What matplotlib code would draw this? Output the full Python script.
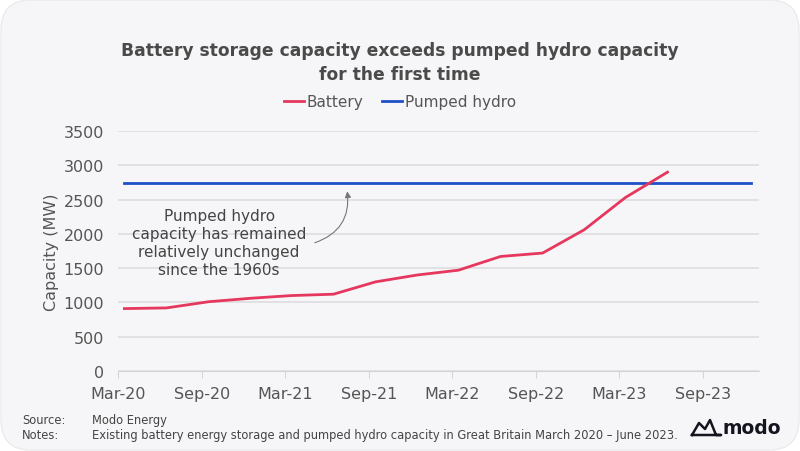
import datetime as dt
import matplotlib
matplotlib.use("Agg")
import matplotlib.pyplot as plt
import matplotlib.dates as mdates
from matplotlib.patches import FancyBboxPatch
from matplotlib.lines import Line2D

# ---------- data ----------
battery_dates = [dt.date(2020, 3, 15), dt.date(2020, 6, 15), dt.date(2020, 9, 15), dt.date(2020, 12, 15),
                 dt.date(2021, 3, 15), dt.date(2021, 6, 15), dt.date(2021, 9, 15), dt.date(2021, 12, 15),
                 dt.date(2022, 3, 15), dt.date(2022, 6, 15), dt.date(2022, 9, 15), dt.date(2022, 12, 15),
                 dt.date(2023, 3, 15), dt.date(2023, 6, 15)]
battery_mw = [910, 920, 1010, 1060, 1100, 1120, 1300, 1400, 1470, 1670, 1720, 2060, 2530, 2900]

hydro_dates = [dt.date(2020, 3, 15), dt.date(2021, 3, 15), dt.date(2022, 3, 15),
               dt.date(2023, 3, 15), dt.date(2023, 12, 15)]
hydro_mw = [2740, 2740, 2740, 2740, 2740]

yticks = [0, 500, 1000, 1500, 2000, 2500, 3000, 3500]

# ---------- style ----------
BG = "#F6F6F8"
RED = "#E6385E"
BLUE = "#1E50C8"
GREY = "#555555"
plt.rcParams["font.family"] = ["DejaVu Sans"]

fig = plt.figure(figsize=(8, 4.52), dpi=100, facecolor="white")
card = FancyBboxPatch((1, 1), 798, 450, boxstyle="round,pad=0,rounding_size=30",
                      transform=None, facecolor=BG, edgecolor="#EBEBEE", lw=1, zorder=-10)
fig.patches.append(card)

ax = fig.add_axes([0.1475, 0.177, 0.8013, 0.531])
ax.set_facecolor("none")

ax.plot(hydro_dates, hydro_mw, color=BLUE, lw=2, label="Pumped hydro", zorder=3)
ax.plot(battery_dates, battery_mw, color=RED, lw=2, label="Battery", zorder=4)

ax.set_xlim(dt.date(2020, 3, 1), dt.date(2024, 1, 1))
ax.set_ylim(0, 3500)
ax.set_yticks(yticks)
xt = [dt.date(y, m, 1) for y in (2020, 2021, 2022, 2023) for m in (3, 9)]
ax.set_xticks(xt)
ax.xaxis.set_major_formatter(mdates.DateFormatter("%b-%y"))

ax.grid(axis="y", color="#DDDDE0", lw=1.2)
ax.set_axisbelow(True)
for s in ("top", "right", "left"):
    ax.spines[s].set_visible(False)
ax.spines["bottom"].set_color("#D5D5D8")
ax.tick_params(axis="y", length=0, labelsize=11.5, labelcolor=GREY, pad=10)
ax.tick_params(axis="x", length=5, color="#D5D5D8", labelsize=11.5, labelcolor=GREY, pad=6)
ax.set_ylabel("Capacity (MW)", fontsize=11.5, color=GREY)
ax.yaxis.set_label_coords(-0.092, 0.5)

# annotation text + separate curved arrow
ax.text(dt.date(2020, 10, 8), 1870,
        "Pumped hydro\ncapacity has remained\nrelatively unchanged\nsince the 1960s",
        ha="center", va="center", fontsize=11, color="#444444", linespacing=1.25)
ax.annotate("", xy=(dt.date(2021, 7, 15), 2620), xytext=(dt.date(2021, 5, 5), 1870),
            arrowprops=dict(arrowstyle="-|>", color="#777777", lw=0.8,
                            mutation_scale=9, shrinkA=0, shrinkB=0,
                            connectionstyle="arc3,rad=0.4"))

fig.text(0.5, 1 - 63 / 452, "Battery storage capacity exceeds pumped hydro capacity\nfor the first time",
         ha="center", va="center", fontsize=12.3, fontweight="bold", color="#4A4A4A",
         linespacing=1.4)

handles = [Line2D([], [], color=RED, lw=2), Line2D([], [], color=BLUE, lw=2)]
fig.legend(handles, ["Battery", "Pumped hydro"], loc="center", bbox_to_anchor=(0.5, 1 - 103 / 452),
           ncol=2, frameon=False, fontsize=11, handlelength=1.3, handletextpad=0.2,
           columnspacing=1.2, labelcolor=GREY)

FOOT = 8.3
fig.text(22 / 800, 1 - 421 / 452, "Source:", fontsize=FOOT, color="#444444", va="center")
fig.text(92 / 800, 1 - 421 / 452, "Modo Energy", fontsize=FOOT, color="#444444", va="center")
fig.text(22 / 800, 1 - 436 / 452, "Notes:", fontsize=FOOT, color="#444444", va="center")
fig.text(92 / 800, 1 - 436 / 452,
         "Existing battery energy storage and pumped hydro capacity in Great Britain March 2020 \u2013 June 2023.",
         fontsize=FOOT, color="#444444", va="center")

# modo logo
lx = [692, 699, 705, 710, 716, 721, 692]
ly = [436, 424, 430, 421, 436, 436, 436]
fig.add_artist(Line2D([x / 800 for x in lx], [1 - y / 452 for y in ly], color="#15151F",
                      lw=1.8, solid_joinstyle="round", transform=fig.transFigure))
fig.text(723 / 800, 1 - 429 / 452, "modo", fontsize=13.5, fontweight="bold", color="#15151F",
         va="center", ha="left")

fig.savefig("out.png", dpi=100, facecolor="white")
